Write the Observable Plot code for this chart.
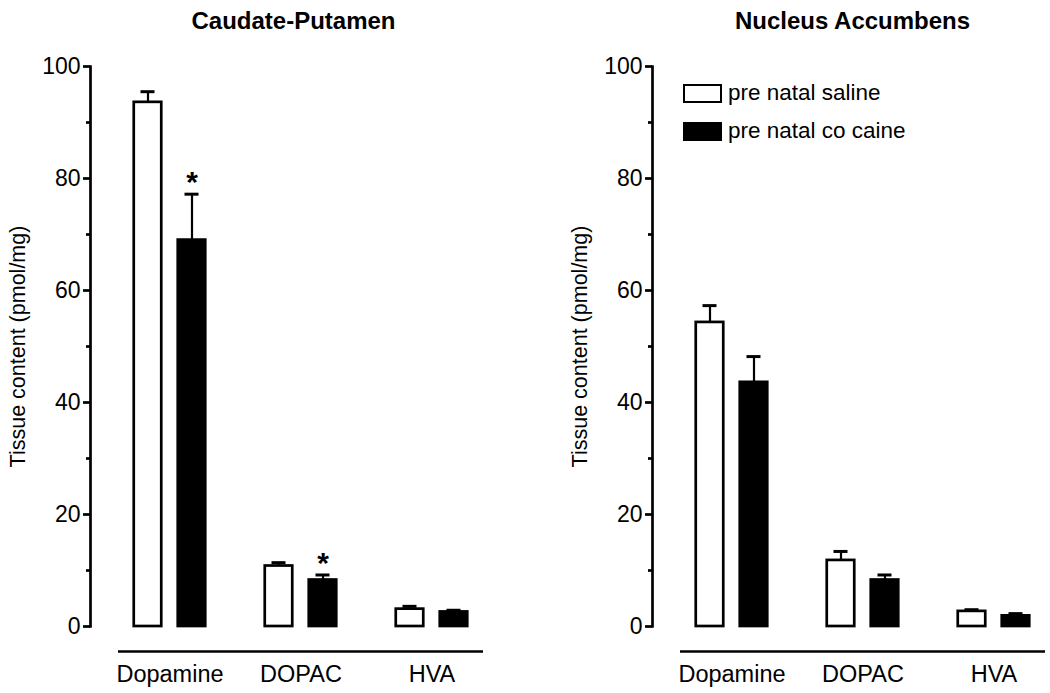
<!DOCTYPE html>
<html><head><meta charset="utf-8">
<script src="https://cdn.jsdelivr.net/npm/d3@7"></script>
<script src="https://cdn.jsdelivr.net/npm/@observablehq/plot@0.6"></script>
<style>
html,body{margin:0;padding:0;background:#fff;overflow:hidden;}
#wrap{position:relative;width:1050px;height:693px;overflow:hidden;font-family:"Liberation Sans",Arial,sans-serif;background:#fff;}
.panel{position:absolute;top:0;width:510px;height:693px;}
.panel svg{max-width:none !important;}
.legend{position:absolute;left:683px;top:84px;color:#000;font-size:22.5px;line-height:1;}
.legend .row{position:absolute;left:0;white-space:nowrap;}
.legend .sw{position:absolute;left:0;top:0;width:35px;height:15px;border:2.5px solid #000;}
.legend .lab{position:absolute;left:45px;top:-2px;}
</style></head><body><div id="wrap"></div>
<script>
const categories = ["Dopamine", "DOPAC", "HVA"];
const series = ["pre natal saline", "pre natal co caine"];
const seriesFill = ["white", "black"];
const yTicks = [0, 20, 40, 60, 80, 100];
const yMinorTicks = [10, 30, 50, 70, 90];
const panelTitles = ["Caudate-Putamen", "Nucleus Accumbens"];
const yLabel = "Tissue content (pmol/mg)";

// Caudate-Putamen
const cpSalineMean = [93.6, 10.8, 3.1];
const cpSalineSem = [1.9, 0.6, 0.5];
const cpCocaineMean = [69.0, 8.3, 2.6];
const cpCocaineSem = [8.2, 0.9, 0.3];
const cpSignificant = [true, true, false];

// Nucleus Accumbens
const nacSalineMean = [54.3, 11.8, 2.7];
const nacSalineSem = [3.0, 1.6, 0.3];
const nacCocaineMean = [43.6, 8.3, 1.9];
const nacCocaineSem = [4.6, 0.9, 0.4];
const nacSignificant = [false, false, false];

const FONT = "Liberation Sans, Arial, sans-serif";

function panel(title, sMean, sSem, cMean, cSem, sig, titleDx) {
  const sal = categories.map((c, i) => ({cat: c, mean: sMean[i], top: sMean[i] + sSem[i]}));
  const coc = categories.map((c, i) => ({cat: c, mean: cMean[i], top: cMean[i] + cSem[i], sig: sig[i]}));
  return Plot.plot({
    width: 510, height: 693,
    marginTop: 66, marginBottom: 67, marginLeft: 90, marginRight: 0,
    style: {fontFamily: FONT, background: "white", color: "black", overflow: "visible"},
    x: {domain: categories, paddingInner: 0, paddingOuter: 0.103},
    y: {domain: [0, 100]},
    marks: [
      Plot.frame({anchor: "left", stroke: "black", strokeWidth: 2.7}),
      Plot.axisY(yTicks, {tickSize: 7, tickPadding: 3, fontSize: 23, strokeWidth: 2.7, label: null}),
      Plot.axisY(yMinorTicks, {tickSize: 4, tickFormat: () => "", strokeWidth: 2.7, label: null}),
      Plot.ruleY([0], {dy: 25, insetLeft: 28, insetRight: 27, stroke: "black", strokeWidth: 2.7}),
      Plot.axisX({tickSize: 0, tickPadding: 39, fontSize: 23.5, label: null}),
      Plot.text([yLabel], {frameAnchor: "left", textAnchor: "middle", lineAnchor: "middle", rotate: -90, dx: -72, fontSize: 21.5}),
      Plot.text([title], {frameAnchor: "top", textAnchor: "middle", lineAnchor: "middle", dy: -45, dx: titleDx, fontSize: 24, fontWeight: "bold", letterSpacing: -0.5}),
      // error bars (upper only)
      Plot.ruleX(sal, {x: "cat", y1: "mean", y2: "top", dx: -22, stroke: "black", strokeWidth: 2.2}),
      Plot.ruleX(coc, {x: "cat", y1: "mean", y2: "top", dx: 22, stroke: "black", strokeWidth: 2.2}),
      Plot.tickY(sal, {x: "cat", y: "top", insetLeft: 36.5, insetRight: 80.5, stroke: "black", strokeWidth: 3}),
      Plot.tickY(coc, {x: "cat", y: "top", insetLeft: 80.5, insetRight: 36.5, stroke: "black", strokeWidth: 3}),
      // bars
      Plot.barY(sal, {x: "cat", y: "mean", fill: seriesFill[0], stroke: "black", strokeWidth: 2.7, insetLeft: 29.75, insetRight: 73.75}),
      Plot.barY(coc, {x: "cat", y: "mean", fill: seriesFill[1], stroke: "black", strokeWidth: 2.7, insetLeft: 73.75, insetRight: 29.75}),
      // significance
      Plot.text(coc.filter(d => d.sig), {x: "cat", y: "top", text: () => "*", dx: 22, dy: -12, fontSize: 30, fontWeight: "bold"})
    ]
  });
}

const wrap = document.getElementById("wrap");
const p1 = panel(panelTitles[0], cpSalineMean, cpSalineSem, cpCocaineMean, cpCocaineSem, cpSignificant, -7);
const p2 = panel(panelTitles[1], nacSalineMean, nacSalineSem, nacCocaineMean, nacCocaineSem, nacSignificant, -10);
const d1 = document.createElement("div"); d1.className = "panel"; d1.style.left = "0px"; d1.appendChild(p1);
const d2 = document.createElement("div"); d2.className = "panel"; d2.style.left = "562px"; d2.appendChild(p2);
wrap.appendChild(d1); wrap.appendChild(d2);

// legend (inside the right panel, as in the reference)
const leg = document.createElement("div"); leg.className = "legend";
series.forEach((s, i) => {
  const row = document.createElement("div"); row.className = "row"; row.style.top = (i * 38) + "px";
  const sw = document.createElement("div"); sw.className = "sw"; sw.style.background = seriesFill[i];
  const lab = document.createElement("span"); lab.className = "lab"; lab.textContent = s;
  row.appendChild(sw); row.appendChild(lab); leg.appendChild(row);
});
wrap.appendChild(leg);
</script></body></html>
